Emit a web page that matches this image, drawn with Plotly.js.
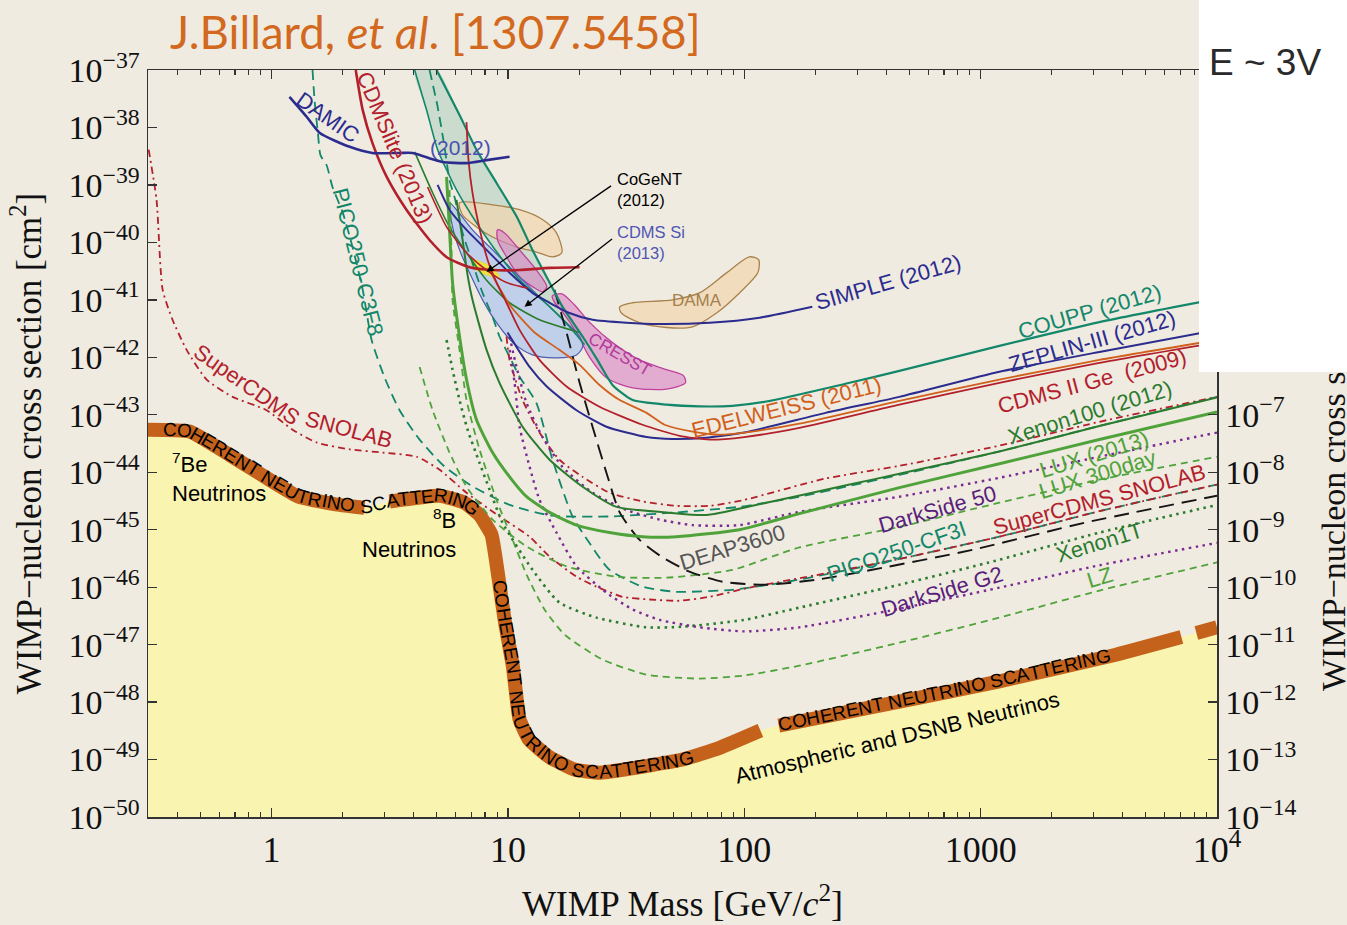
<!DOCTYPE html>
<html><head><meta charset="utf-8">
<script src="https://cdn.plot.ly/plotly-3.0.1.min.js"></script>
<style>html,body{margin:0;padding:0;background:#efebe1;}</style>
</head><body><div id="chart" style="width:1347px;height:925px;"></div>
<script>
// ---------------- DATA (WIMP mass in GeV, cross section in cm^2) ----------------
const floorMass  = [0.3,0.45,0.664,0.98,1.31,1.94,2.47,3.16,5.14,6.55,7.58,8.52,8.95,9.68,10.5,11.2,12.3,15.0,19.1,24.4,31.1,54.8,78.6,117,140,454,1200,3580,7070,8180,10000];
const floorSigma = [5.5e-44,5.1e-44,2.0e-44,7.4e-45,3.7e-45,2.7e-45,2.4e-45,3.1e-45,3.9e-45,2.95e-45,1.8e-45,8.2e-46,2.5e-46,2.7e-47,4.1e-48,5.0e-49,2.2e-49,1.1e-49,6.7e-50,5.9e-50,6.7e-50,1.0e-49,1.6e-49,3.2e-49,3.9e-49,1.02e-48,2.3e-48,6.4e-48,1.36e-47,1.6e-47,2.0e-47];
const bandGapsAfter = [2.47,117,7070];   // the drawn band is broken after these masses

const damicMass = [1.19,1.41,1.60,2.14,2.67,3.48,3.95,4.80,5.29,6.68,8.12,10.16];
const damicSigma = [3.4e-38,1.52e-38,8.0e-39,4.6e-39,3.6e-39,3.6e-39,3.6e-39,2.8e-39,2.5e-39,2.4e-39,2.7e-39,3.1e-39];

const cdmsliteMass = [2.27,2.43,2.67,3.07,3.72,4.66,5.55,6.88,8.61,11.2,15.0,20.1];
const cdmsliteSigma = [1e-37,2.0e-38,5.4e-39,1.38e-39,3.7e-40,1.1e-40,5.4e-41,3.7e-41,3.3e-41,3.3e-41,3.6e-41,3.7e-41];

const cdmsGeMass = [6.68,6.81,7.08,7.66,8.20,8.95,9.86,11.2,13.6,17.7,24.4,37.1,53.2,71.3,100,171,453,1200,3180,10000];
const cdmsGeSigma = [1.24e-38,2.7e-39,7.3e-40,1.46e-40,5.0e-41,2.0e-41,8.9e-42,3.0e-42,9.0e-43,3.1e-43,1.38e-43,6.7e-44,4.3e-44,3.7e-44,4.1e-44,5.9e-44,1.5e-43,3.6e-43,8.0e-43,1.8e-42];

const cdmsLTMass = [4.57,5.50,6.68,8.12,9.86,12.1];
const cdmsLTSigma = [9.2e-40,1.86e-40,6.6e-41,3.3e-41,2.0e-41,1.6e-41];

const edwMass = [8.36,10.16,12.96,16.5,20.1,24.4,29.7,38.6,46.0,60.4,78.6,100,171,453,1200,3180,10000];
const edwSigma = [3.3e-41,8.2e-42,2.7e-42,1.35e-42,7.4e-43,3.3e-43,1.8e-43,1.08e-43,6.7e-44,5.1e-44,4.5e-44,4.9e-44,7.0e-44,1.75e-43,4.1e-43,9.0e-43,2.0e-42];

const zepMass = [9.96,12.35,14.6,19.5,26.1,38.6,49.7,69.2,100,221,453,1200,3180,10000];
const zepSigma = [2.7e-42,6.8e-43,3.1e-43,1.2e-43,6.2e-44,4.1e-44,3.8e-44,4.0e-44,4.9e-44,1.08e-43,2.05e-43,5.6e-43,1.24e-42,3.0e-42];

const couppMass = [4.99,6.24,7.36,8.95,10.9,12.7,15.0,17.0,20.7,23.9,27.7,33.7,46.9,64.6,89.1,124,279,453,1200,3180,10000];
const couppSigma = [1e-37,1.65e-38,4.1e-39,1.08e-39,2.8e-40,7.4e-41,2.0e-41,7.6e-42,2.3e-42,9.0e-43,3.3e-43,1.8e-43,1.5e-43,1.4e-43,1.43e-43,1.7e-43,3.6e-43,5.8e-43,1.58e-42,4.1e-42,1.04e-41];

const tealLeftMass = [4.03,4.53,5.04,6.06,7.36,9.49,11.5,15.0,18.2,21.1];
const tealLeftSigma = [1e-37,2.0e-38,4.1e-39,8.2e-40,2.2e-40,5.0e-41,2.0e-41,7.6e-42,3.4e-42,1.65e-42];

const simpleMass = [5.04,5.66,6.68,8.12,10.16,12.7,15.0,18.2,22.8,31.7,43.8,71.3,116,194];
const simpleSigma = [1e-39,3.7e-40,1.65e-40,7.4e-41,2.95e-41,1.32e-41,8.9e-42,5.9e-42,4.5e-42,4.0e-42,3.8e-42,4.0e-42,4.9e-42,7.6e-42];

const xe10Mass = [4.03,4.80,5.66,6.68,8.12,10.16,13.6,20.1];
const xe10Sigma = [3.75e-39,7.3e-40,1.86e-40,6.6e-41,2.2e-41,8.9e-42,4.5e-42,2.7e-42];

const xe100Mass = [6.06,6.43,6.75,7.08,8.12,9.21,11.53,15.0,20.7,28.8,46.9,69.2,124,279,453,1200,3180,10000];
const xe100Sigma = [5.5e-40,1.1e-40,2.7e-41,1e-41,1.35e-42,3.6e-43,6.2e-44,1.65e-44,5.6e-45,2.5e-45,2.0e-45,1.8e-45,2.95e-45,6.1e-45,9.4e-45,2.3e-44,6.4e-44,2.0e-43];

const picoC3F8Mass = [1.49,1.52,1.57,1.61,1.71,1.81,2.00,2.20,2.43,2.65,3.01,3.48,4.23,5.29,6.88,10.16,15.44,26.9,51.7,95.4,171,279,453,1200,3180,10000];
const picoC3F8Sigma = [1e-37,3.0e-38,8.0e-39,3.3e-39,2.2e-39,9.2e-40,3.3e-40,8.3e-41,1.5e-41,2.0e-42,4.4e-43,1.2e-43,3.7e-44,1.35e-44,6.1e-45,2.7e-45,1.75e-45,1.7e-45,2.0e-45,2.5e-45,3.75e-45,5.8e-45,9.0e-45,2.3e-44,6.4e-44,2.05e-43];

const snolabAMass = [0.302,0.326,0.346,0.381,0.437,0.531,0.684,0.952,1.227,1.55,2.14,2.95,4.11,5.14,6.68,9.21,12.35,15.0,19.5,23.7,30.5,39.7,53.2,71.3,105,218,453,1200,3180,10000];
const snolabASigma = [4.1e-39,5.5e-40,1.5e-41,4.5e-42,1.35e-42,4.1e-43,2.05e-43,1.2e-43,5.5e-44,3.3e-44,2.5e-44,2.2e-44,1.86e-44,1.1e-44,4.4e-45,1.7e-45,7.55e-46,3.4e-46,1.52e-46,1.02e-46,6.8e-47,6.1e-47,5.8e-47,6.8e-47,9.8e-47,1.72e-46,3.1e-46,7.55e-46,2.1e-45,6.1e-45];

const snolabBMass = [9.86,10.16,11.53,13.6,16.5,20.7,26.9,37.1,51.7,71.3,100,218,453,1200,3180,10000];
const snolabBSigma = [2.3e-42,9.0e-43,1.8e-43,4.9e-44,1.65e-44,8.3e-45,4.4e-45,3.1e-45,2.6e-45,2.6e-45,3.3e-45,7.7e-45,1.29e-44,2.9e-44,7.55e-44,2.05e-43];

const lux13Mass = [5.50,5.66,5.83,6.24,6.68,7.36,8.61,10.16,11.99,15.0,19.5,26.9,37.1,51.7,95.4,171,453,1200,3180,10000];
const lux13Sigma = [1.38e-39,1.65e-40,2.0e-41,2.3e-42,4.1e-43,8.2e-44,2.2e-44,8.3e-45,3.75e-45,2.0e-45,1.2e-45,8.9e-46,7.55e-46,7.55e-46,1.0e-45,1.9e-45,5.4e-45,1.4e-44,3.7e-44,1.12e-43];

const ds50Mass = [10.16,10.87,11.99,14.0,17.0,22.8,31.7,43.8,60.4,95.4,171,453,1200,3180,10000];
const ds50Sigma = [2.3e-42,6.8e-43,1.6e-43,4.1e-44,1.24e-44,4.4e-45,2.2e-45,1.5e-45,1.2e-45,1.2e-45,2.05e-45,3.75e-45,8.0e-45,1.86e-44,4.9e-44];

const dsg2Mass = [10.16,10.67,11.2,12.35,13.6,16.05,19.5,26.1,33.7,43.8,64.6,100,171,453,1200,3180,10000];
const dsg2Sigma = [1.35e-42,3.6e-43,6.2e-44,1.24e-44,3.3e-45,8.9e-46,2.3e-46,8.0e-47,4.1e-47,2.7e-47,2.0e-47,1.7e-47,2.0e-47,4.2e-47,9.8e-47,2.4e-46,5.9e-46];

const lux300Mass = [4.23,4.80,5.66,6.68,8.61,11.99,17.7,28.8,46.9,89.1,171,453,1200,3180,10000];
const lux300Sigma = [6.8e-43,1.2e-43,2.2e-44,5.6e-45,1.5e-45,5.1e-46,2.3e-46,1.52e-46,1.46e-46,2.0e-46,4.9e-46,1.12e-45,2.95e-45,7.4e-45,1.86e-44];

const picoCF3IMass = [4.66,5.04,5.39,5.66,5.94,6.43,7.08,7.81,8.61,9.21,10.16,11.2,13.2,15.44,18.76,22.1,26.9,37.1,51.7,89.1,152,218,453,1200,3180,10000];
const picoCF3ISigma = [1e-37,2.3e-38,4.6e-39,1.2e-39,6.2e-40,1.46e-40,4.4e-41,1.32e-41,5.1e-42,2.3e-42,1.02e-42,4.6e-43,1.6e-43,1.65e-44,1.7e-45,5.9e-46,2.0e-46,1.02e-46,8.3e-47,9.0e-47,1.24e-46,1.65e-46,3.1e-46,7.55e-46,2.1e-45,6.1e-45];

const deapMass = [15.74,17.7,20.1,22.8,26.1,29.7,36.0,45.1,58.6,80.9,124,202,316,932,2750,10000];
const deapSigma = [1.5e-41,2.7e-42,3.6e-43,6.2e-44,9.8e-45,2.0e-45,6.7e-46,3.3e-46,1.86e-46,1.24e-46,1.1e-46,1.35e-46,1.86e-46,4.5e-46,1.32e-45,3.9e-45];

const xe1tMass = [5.50,5.83,6.24,6.75,7.58,8.36,9.49,12.71,16.5,23.7,38.6,54.8,100,171,453,1200,3180,10000];
const xe1tSigma = [2.0e-42,6.1e-43,1.8e-43,5.5e-44,1.46e-44,5.0e-45,1.32e-45,2.0e-46,5.4e-47,2.95e-47,2.0e-47,2.05e-47,2.7e-47,4.4e-47,1.1e-46,3.0e-46,8.9e-46,2.7e-45];

const lzMass = [5.66,5.77,5.83,6.24,6.68,7.58,8.95,10.46,11.99,14.28,17.35,25.1,38.6,64.6,100,171,453,1200,3180,10000];
const lzSigma = [8.2e-40,7.4e-41,1e-41,1.35e-42,1.8e-43,2.5e-44,3.3e-45,6.7e-46,1.65e-46,4.1e-47,1.5e-47,5.5e-48,3.0e-48,2.56e-48,2.9e-48,4.3e-48,1.08e-47,2.95e-47,8.7e-47,2.7e-46];

// signal regions
const cdmsSiMass = [5.66,5.83,6.24,6.88,7.81,8.95,10.5,12.7,16.05,19.5,20.7,20.1,17.7,14.0,11.2,8.61,7.08,6.06];
const cdmsSiSigma = [4.9e-40,1.86e-40,7.4e-41,2.95e-41,1.0e-41,4.0e-42,1.8e-42,1.1e-42,9.8e-43,1.1e-42,1.52e-42,2.3e-42,4.0e-42,1.0e-41,2.5e-41,7.4e-41,1.65e-40,3.7e-40];
const damaLowMass = [6.24,8.61,11.2,14.0,16.05,16.9,15.4,13.2,10.9,8.61,7.36,6.43];
const damaLowSigma = [4.9e-40,4.5e-40,3.7e-40,2.5e-40,1.46e-40,6.6e-41,5.6e-41,6.8e-41,8.3e-41,1.24e-40,1.86e-40,3.0e-40];
const damaHighMass = [29.7,33.7,49.7,64.6,84.1,105,115,114,95.4,76.3,60.4,46.9,36.0,30.2];
const damaHighSigma = [7.55e-42,8.9e-42,1.0e-41,1.32e-41,2.95e-41,5.6e-41,5.0e-41,2.95e-41,1.32e-41,5.9e-42,3.4e-42,3.3e-42,4.0e-42,5.9e-42];
const cresstLowMass = [9.04,9.67,11.2,13.2,14.6,14.0,12.7,11.2,9.86,9.04];
const cresstLowSigma = [1.65e-40,1.46e-40,7.4e-41,3.3e-41,1.7e-41,1.38e-41,1.7e-41,2.5e-41,5.6e-41,1.1e-40];
const cresstHighMass = [15.4,16.9,19.1,22.1,27.7,36.0,46.9,55.3,56.4,46.9,33.7,26.1,22.1,19.5,17.0,15.7];
const cresstHighSigma = [1.17e-41,1.27e-41,8.2e-42,4.1e-42,1.8e-42,9.0e-43,6.1e-43,4.8e-43,3.6e-43,2.8e-43,2.95e-43,4.4e-43,1.02e-42,2.7e-42,6.2e-42,9.2e-42];
const cogentMass = [7.02,8.61,9.21,8.12,7.08];
const cogentSigma = [5.0e-41,3.7e-41,2.5e-41,2.7e-41,3.7e-41];

// tick labels
const xTickVals = [1,10,100,1000,10000];
const xTickText = ['1','10','100','1000','10<sup>4</sup>'];
const yTickVals = [1e-50,1e-49,1e-48,1e-47,1e-46,1e-45,1e-44,1e-43,1e-42,1e-41,1e-40,1e-39,1e-38,1e-37];
const yTickText = ['10<sup>−50</sup>','10<sup>−49</sup>','10<sup>−48</sup>','10<sup>−47</sup>','10<sup>−46</sup>','10<sup>−45</sup>','10<sup>−44</sup>','10<sup>−43</sup>','10<sup>−42</sup>','10<sup>−41</sup>','10<sup>−40</sup>','10<sup>−39</sup>','10<sup>−38</sup>','10<sup>−37</sup>'];
const y2TickVals = [1e-14,1e-13,1e-12,1e-11,1e-10,1e-9,1e-8,1e-7,1e-6,1e-5,1e-4,1e-3,1e-2,1e-1];
const y2TickText = ['10<sup>−14</sup>','10<sup>−13</sup>','10<sup>−12</sup>','10<sup>−11</sup>','10<sup>−10</sup>','10<sup>−9</sup>','10<sup>−8</sup>','10<sup>−7</sup>','10<sup>−6</sup>','10<sup>−5</sup>','10<sup>−4</sup>','10<sup>−3</sup>','10<sup>−2</sup>','10<sup>−1</sup>'];
const floorText = 'COHERENT NEUTRINO SCATTERING';

// ---------------- STYLE / LAYOUT ----------------
const C = {navy:'#2c2c8e', red:'#b3202b', orange:'#d1601c', teal:'#13876a', dkgreen:'#2b7b2e', ltgreen:'#4fa33a', purple:'#7b2a92', black:'#151515'};
const BG = '#efebe1';
const PL=148, PT=70, PW=1069, PH=747, XR=[Math.log10(0.3),4], YR=[-50,-37];

function line(m, s, color, width, dash){
  return {type:'scatter', mode:'lines', x:m, y:s, hoverinfo:'skip',
    line:{color:color, width:width, dash:dash||'solid', shape:'spline', smoothing:0.6}};
}
function region(m, s, fill, lc, lw){
  return {type:'scatter', mode:'lines', x:m.concat([m[0]]), y:s.concat([s[0]]), fill:'toself',
    fillcolor:fill, hoverinfo:'skip', line:{color:lc, width:lw, shape:'spline', smoothing:0.8}};
}

const traces = [];
// neutrino floor (yellow fill + broken band)
traces.push({type:'scatter', mode:'lines', x:floorMass.concat([10000,0.3]), y:floorSigma.concat([1e-50,1e-50]),
  fill:'toself', fillcolor:'#f9f5b1', line:{width:0}, hoverinfo:'skip'});
const bandM = [], bandS = [];
floorMass.forEach((m,i)=>{ bandM.push(m); bandS.push(floorSigma[i]); if (bandGapsAfter.includes(m)){ bandM.push(null); bandS.push(null); } });
traces.push({type:'scatter', mode:'lines', x:bandM, y:bandS, connectgaps:false, hoverinfo:'skip',
  line:{color:'#c4621c', width:14, shape:'spline', smoothing:0.4}});
// regions
const tealRegM = tealLeftMass.concat(couppMass.slice(0,9).reverse());
const tealRegS = tealLeftSigma.concat(couppSigma.slice(0,9).reverse());
traces.push(region(tealRegM, tealRegS, 'rgba(30,150,110,0.17)', 'rgba(0,0,0,0)', 0));
traces.push(region(damaLowMass, damaLowSigma, 'rgba(242,212,170,0.65)', '#a8824c', 1.3));
traces.push(region(damaHighMass, damaHighSigma, 'rgba(242,212,170,0.65)', '#a8824c', 1.3));
traces.push(region(cresstLowMass, cresstLowSigma, 'rgba(215,130,195,0.6)', '#c0409e', 1.3));
traces.push(region(cresstHighMass, cresstHighSigma, 'rgba(215,130,195,0.6)', '#c0409e', 1.3));
traces.push(region(cdmsSiMass, cdmsSiSigma, 'rgba(160,190,240,0.6)', '#4d5bb0', 1.2));
traces.push(region(cogentMass, cogentSigma, '#ede23e', '#e0d030', 0.5));
// limit / projection lines
traces.push(line(tealLeftMass, tealLeftSigma, C.teal, 1.6));
traces.push(line(picoC3F8Mass, picoC3F8Sigma, C.teal, 1.8, '10px,6px'));
traces.push(line(picoCF3IMass, picoCF3ISigma, C.teal, 1.8, '10px,6px'));
traces.push(line(snolabAMass, snolabASigma, C.red, 1.8, '7px,4px,2px,4px'));
traces.push(line(snolabBMass, snolabBSigma, C.red, 1.8, '7px,4px,2px,4px'));
traces.push(line(lux300Mass, lux300Sigma, C.ltgreen, 1.8, '7px,5px'));
traces.push(line(lzMass, lzSigma, C.ltgreen, 1.8, '7px,5px'));
traces.push(line(xe1tMass, xe1tSigma, C.dkgreen, 2.6, '2.5px,4.5px'));
traces.push(line(ds50Mass, ds50Sigma, C.purple, 2.4, '2.5px,4.5px'));
traces.push(line(dsg2Mass, dsg2Sigma, C.purple, 2.4, '2.5px,4.5px'));
traces.push(line(deapMass, deapSigma, C.black, 1.9, '15px,8px'));
traces.push(line(xe10Mass, xe10Sigma, C.dkgreen, 1.6));
traces.push(line(xe100Mass, xe100Sigma, C.dkgreen, 2.0));
traces.push(line(lux13Mass, lux13Sigma, C.ltgreen, 3.0));
traces.push(line(couppMass, couppSigma, C.teal, 2.2));
traces.push(line(simpleMass, simpleSigma, C.navy, 2.0));
traces.push(line(zepMass, zepSigma, C.navy, 2.0));
traces.push(line(edwMass, edwSigma, C.orange, 1.8));
traces.push(line(cdmsGeMass, cdmsGeSigma, C.red, 1.8));
traces.push(line(cdmsLTMass, cdmsLTSigma, C.red, 1.6));
traces.push(line(cdmsliteMass, cdmsliteSigma, C.red, 2.6));
traces.push(line(damicMass, damicSigma, C.navy, 2.6));
// dummy trace so the right-hand axis is drawn
traces.push({type:'scatter', mode:'lines', x:[1,1], y:[1e-14,1e-14], yaxis:'y2', line:{width:0}, hoverinfo:'skip'});

// minor ticks on x axis
const minorVals = [];
for (let d=-1; d<=3; d++) for (let k=2; k<=9; k++){ const v=k*Math.pow(10,d); if (v>=0.3 && v<10000) minorVals.push(v); }

// text laid along the neutrino floor
function px(m,s){ return [PL+(Math.log10(m)-XR[0])/(XR[1]-XR[0])*PW, PT+(YR[1]-Math.log10(s))/(YR[1]-YR[0])*PH]; }
const ctx = document.createElement('canvas').getContext('2d');
function pathText(str, startMass, size, offset){
  const P = floorMass.map((m,i)=>px(m,floorSigma[i]));
  const cum=[0];
  for (let i=1;i<P.length;i++) cum.push(cum[i-1]+Math.hypot(P[i][0]-P[i-1][0],P[i][1]-P[i-1][1]));
  const at = s => { s=Math.max(0,Math.min(cum[cum.length-1],s)); let i=1; while(i<cum.length-1 && cum[i]<s) i++;
    const t=(s-cum[i-1])/((cum[i]-cum[i-1])||1); return [P[i-1][0]+t*(P[i][0]-P[i-1][0]), P[i-1][1]+t*(P[i][1]-P[i-1][1])]; };
  const sx = px(startMass,1e-45)[0];
  let s=0;
  for (let i=1;i<P.length;i++){ if (P[i][0]>=sx){ const t=(sx-P[i-1][0])/(P[i][0]-P[i-1][0]); s=cum[i-1]+t*(cum[i]-cum[i-1]); break; } }
  ctx.font = size+'px "Liberation Sans"';
  const out=[];
  for (const ch of str){
    const w = ctx.measureText(ch).width;
    const mid = s + w/2;
    if (ch !== ' '){
      const a=at(mid-7), b=at(mid+7), p=at(mid);
      const ang=Math.atan2(b[1]-a[1], b[0]-a[0]);
      const x=p[0]+offset*Math.sin(ang), y=p[1]-offset*Math.cos(ang);
      out.push({xref:'paper', yref:'paper', x:(x-PL)/PW, y:1-(y-PT)/PH, text:ch, showarrow:false,
        textangle:ang*180/Math.PI, xanchor:'center', yanchor:'middle',
        font:{family:'Liberation Sans', size:size, color:'#000'}});
    }
    s += w;
  }
  return out;
}

const labels = [
  ['DAMIC',0.237,-37.835,35,C.navy,22],
  ['(2012)',0.7995,-38.357,0,'#4b50b0',21],
  ['CDMSlite (2013)',0.520,-38.357,67,C.red,22],
  ['PICO250-C3F8',0.364,-40.339,76,C.teal,22],
  ['SuperCDMS',-0.106,-42.478,35,C.red,22],
  ['SNOLAB',0.326,-43.261,15,C.red,22],
  ['DAMA',1.798,-41.017,0,'#a3804e',17],
  ['CRESST',1.472,-41.957,30,'#b2399c',17],
  ['SIMPLE (2012)',2.606,-40.704,-16,C.navy,22],
  ['COUPP (2012)',3.464,-41.209,-16,C.teal,22],
  ['ZEPLIN-III (2012)',3.469,-41.730,-16,C.navy,22],
  ['CDMS II Ge  (2009)',3.469,-42.426,-15,C.red,22],
  ['EDELWEISS (2011)',2.178,-42.878,-14,C.orange,22],
  ['Xenon100 (2012)',3.464,-42.965,-17,C.dkgreen,22],
  ['LUX (2013)',3.481,-43.696,-17,C.ltgreen,22],
  ['LUX 300day',3.494,-44.043,-17,C.ltgreen,22],
  ['DarkSide 50',2.817,-44.652,-16,'#5a1f7a',22],
  ['SuperCDMS SNOLAB',3.503,-44.478,-15,C.red,22],
  ['PICO250-CF3I',2.644,-45.383,-19,C.teal,22],
  ['DEAP3600',1.950,-45.313,-17,'#555555',22],
  ['Xenon1T',3.503,-45.226,-17,C.dkgreen,22],
  ['DarkSide G2',2.838,-46.078,-17,'#5a1f7a',22],
  ['LZ',3.503,-45.835,-17,C.ltgreen,22],
  ['Atmospheric and DSNB Neutrinos',2.648,-48.617,-13.5,'#000',22]
];
const ann = [];
labels.forEach(l => ann.push({xref:'x', yref:'y', x:l[1], y:l[2], text:l[0], textangle:l[3], showarrow:false,
  xanchor:'center', yanchor:'middle', font:{family:'Liberation Sans', size:l[5], color:l[4]}}));
ann.push({xref:'x', yref:'y', x:-0.4315, y:-44.096, text:'<sup>7</sup>Be<br>Neutrinos', align:'left', xanchor:'left', yanchor:'middle', showarrow:false, font:{family:'Liberation Sans', size:22, color:'#000'}});
ann.push({xref:'x', yref:'y', x:0.7868, y:-45.070, text:'<sup>8</sup>B<br>Neutrinos', align:'right', xanchor:'right', yanchor:'middle', showarrow:false, font:{family:'Liberation Sans', size:22, color:'#000'}});
ann.push({xref:'x', yref:'y', x:1.455, y:-39.087, text:'CoGeNT<br>(2012)', align:'left', xanchor:'left', yanchor:'middle', showarrow:false, font:{family:'Liberation Sans', size:16.5, color:'#000'}});
ann.push({xref:'x', yref:'y', x:1.455, y:-40.009, text:'CDMS Si<br>(2013)', align:'left', xanchor:'left', yanchor:'middle', showarrow:false, font:{family:'Liberation Sans', size:16.5, color:'#5055b5'}});
ann.push({xref:'x', yref:'y', x:0.9095, y:-40.513, ax:126, ay:-87, text:'', showarrow:true, arrowhead:2, arrowsize:1.1, arrowwidth:1.3, arrowcolor:'#000'});
ann.push({xref:'x', yref:'y', x:1.0702, y:-41.122, ax:89, ay:-69, text:'', showarrow:true, arrowhead:2, arrowsize:1.1, arrowwidth:1.3, arrowcolor:'#000'});
// floor text
pathText(floorText, 0.347, 19, 1).forEach(a=>ann.push(a));
pathText(floorText, 9.15, 19, 0).forEach(a=>ann.push(a));
pathText(floorText, 140, 19, 1).forEach(a=>ann.push(a));
// title
ann.push({xref:'paper', yref:'paper', x:(168-PL)/PW, y:1+(PT-31)/PH, xanchor:'left', yanchor:'middle', showarrow:false,
  text:'J.Billard, <i>et al</i>. [1307.5458]', font:{family:'Lato', size:45.5, color:'#d2691e'}});
// right axis title (partly hidden by the inset box)
ann.push({xref:'paper', yref:'paper', x:(1331-PL)/PW, y:1-(448-PT)/PH, xanchor:'center', yanchor:'middle', showarrow:false, textangle:-90,
  text:'WIMP−nucleon cross section [cm<sup>2</sup>]', font:{family:'Liberation Serif', size:34, color:'#111'}});
// inset box
ann.push({xref:'paper', yref:'paper', x:(1199-PL)/PW, y:1+PT/PH, xanchor:'left', yanchor:'top', showarrow:false,
  text:' ', width:148, height:372, bgcolor:'#ffffff', borderpad:0, borderwidth:0});
ann.push({xref:'paper', yref:'paper', x:(1265-PL)/PW, y:1+(PT-62)/PH, xanchor:'center', yanchor:'middle', showarrow:false,
  text:'E ~ 3V', font:{family:'Liberation Sans', size:37, color:'#2a2a2a'}});

const xTickFont = {family:'Liberation Serif', size:36, color:'#111'};
const yTickFont = {family:'Liberation Serif', size:34, color:'#111'};
const layout = {
  width:1347, height:925, margin:{l:PL, r:1347-PL-PW, t:PT, b:925-PT-PH},
  paper_bgcolor:BG, plot_bgcolor:BG, showlegend:false,
  xaxis:{type:'log', range:XR, tickmode:'array', tickvals:xTickVals, ticktext:xTickText,
    ticks:'inside', ticklen:9, tickwidth:1.3, tickcolor:'#333', showline:true, linecolor:'#333', linewidth:1.5,
    mirror:'ticks', showgrid:false, zeroline:false, tickfont:xTickFont,
    minor:{tickmode:'array', tickvals:minorVals, ticks:'inside', ticklen:5, tickwidth:1.1, tickcolor:'#333', showgrid:false},
    title:{text:'WIMP Mass [GeV/<i>c</i><sup>2</sup>]', font:{family:'Liberation Serif', size:36, color:'#111'}, standoff:22}},
  yaxis:{type:'log', range:YR, tickmode:'array', tickvals:yTickVals, ticktext:yTickText,
    ticks:'inside', ticklen:9, tickwidth:1.3, tickcolor:'#333', showline:true, linecolor:'#333', linewidth:1.5,
    showgrid:false, zeroline:false, tickfont:yTickFont,
    title:{text:'WIMP−nucleon cross section [cm<sup>2</sup>]', font:{family:'Liberation Serif', size:35, color:'#111'}, standoff:16}},
  yaxis2:{type:'log', overlaying:'y', side:'right', range:[-14,-1], tickmode:'array', tickvals:y2TickVals, ticktext:y2TickText,
    ticks:'inside', ticklen:9, tickwidth:1.3, tickcolor:'#333', showline:true, linecolor:'#333', linewidth:1.5,
    showgrid:false, zeroline:false, tickfont:yTickFont},
  annotations:ann
};
Plotly.newPlot('chart', traces, layout, {displayModeBar:false, staticPlot:true});
</script></body></html>
